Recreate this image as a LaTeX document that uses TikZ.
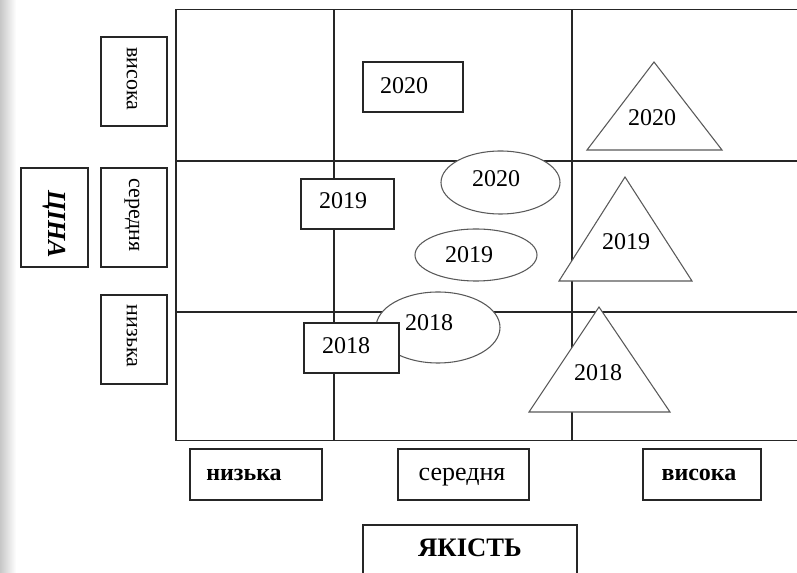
\documentclass[tikz,border=0pt]{standalone}
\usepackage{fontspec}
\setmainfont{Liberation Serif}
\usetikzlibrary{shapes.geometric}
\begin{document}
\begin{tikzpicture}[x=0.75pt,y=-0.75pt,
  gridline/.style={line width=1pt, black!85},
  boxline/.style={line width=1.1pt, black!85, fill=white},
  shapeline/.style={line width=0.8pt, black!65, fill=white},
  yr/.style={font=\fontsize{18}{20}\selectfont, inner sep=0pt},
  vlab/.style={font=\fontsize{16.5}{18}\selectfont, rotate=-90, inner sep=0pt},
  hlab/.style={font=\fontsize{19.5}{22}\selectfont, inner sep=0pt},
  hlabb/.style={font=\fontsize{18}{20}\selectfont\bfseries, inner sep=0pt},
]
\useasboundingbox (0,0) rectangle (797,573);
\shade[left color=black!22, right color=white] (0,0) rectangle (16,573);

% grid
\draw[gridline] (797,9.5) -- (176,9.5) -- (176,440.5) -- (797,440.5);
\draw[gridline] (176,161) -- (797,161);
\draw[gridline] (176,312) -- (797,312);
\draw[gridline] (334,9.5) -- (334,440.5);
\draw[gridline] (572,9.5) -- (572,440.5);

% y axis labels
\draw[boxline] (101,37) rectangle (167,126);
\node[vlab] (yhigh) at (132,79) {висока};
\draw[boxline] (101,168) rectangle (167,267);
\node[vlab] (ymid) at (132,215) {середня};
\draw[boxline] (101,295) rectangle (167,384);
\node[vlab] (ylow) at (132,336) {низька};
\draw[boxline] (21,168) rectangle (88,267);
\node[font=\fontsize{19.5}{21}\selectfont\bfseries\itshape, rotate=-90, inner sep=0pt] (price) at (54,224) {ЦІНА};

% x axis labels
\draw[boxline] (190,449) rectangle (322,500);
\node[hlabb, anchor=base] (xlow) at (244,481) {низька};
\draw[boxline] (398,449) rectangle (529,500);
\node[hlab, anchor=base] (xmid) at (462,481) {середня};
\draw[boxline] (643,449) rectangle (761,500);
\node[hlabb, anchor=base] (xhigh) at (699,481) {висока};
\draw[boxline] (363,580) -- (363,525) -- (577,525) -- (577,580);
\node[font=\fontsize{20}{22}\selectfont\bfseries, inner sep=0pt, anchor=base] (quality) at (470,557) {ЯКІСТЬ};

% 2020
\draw[boxline] (363,62) rectangle (463,112);
\node[yr] (r2020) at (404,86) {2020};
\filldraw[shapeline] (654,62) -- (722,150) -- (587,150) -- cycle;
\node[yr] (t2020) at (652,118) {2020};
\draw[shapeline] (500.5,182.5) ellipse (59.5 and 31.5);
\node[yr] (e2020) at (496,179) {2020};

% 2019
\draw[shapeline] (476,255) ellipse (61 and 26);
\node[yr] (e2019) at (469,255) {2019};
\draw[boxline] (301,179) rectangle (394,229);
\node[yr] (r2019) at (343,201) {2019};
\filldraw[shapeline] (625,177) -- (692,281) -- (559,281) -- cycle;
\node[yr] (t2019) at (626,242) {2019};

% 2018
\draw[shapeline] (438,327.5) ellipse (62 and 35.5);
\node[yr] (e2018) at (429,323) {2018};
\draw[boxline] (304,323) rectangle (399,373);
\node[yr] (r2018) at (346,346) {2018};
\filldraw[shapeline] (599,307) -- (670,412) -- (529,412) -- cycle;
\node[yr] (t2018) at (598,373) {2018};
\end{tikzpicture}
\end{document}
